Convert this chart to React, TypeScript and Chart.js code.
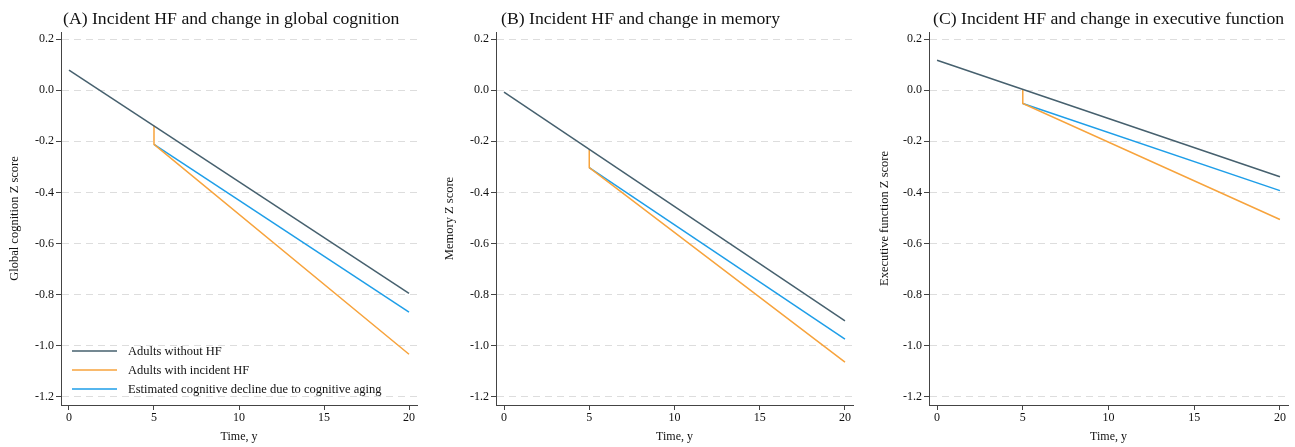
import React, { useEffect, useRef } from "react";
import { Chart, registerables } from "chart.js";

Chart.register(...registerables);

// ---------- Data ----------
const panelTitles = [
  "(A) Incident HF and change in global cognition",
  "(B) Incident HF and change in memory",
  "(C) Incident HF and change in executive function",
];
const yAxisTitles = ["Global cognition Z score", "Memory Z score", "Executive function Z score"];
const xAxisTitle = "Time, y";
const seriesLabels = [
  "Adults without HF",
  "Adults with incident HF",
  "Estimated cognitive decline due to cognitive aging",
];
const xTickValues = [0, 5, 10, 15, 20];
const yTickValues = [-1.2, -1.0, -0.8, -0.6, -0.4, -0.2, 0.0, 0.2];

const noHFTimes = [0, 20];
const incidentHFTimes = [5, 5, 20];
const agingTimes = [5, 20];

const globalNoHF = [0.078, -0.795];
const globalIncidentHF = [-0.139, -0.212, -1.033];
const globalAging = [-0.212, -0.868];

const memoryNoHF = [-0.008, -0.902];
const memoryIncidentHF = [-0.232, -0.303, -1.064];
const memoryAging = [-0.303, -0.974];

const execNoHF = [0.117, -0.339];
const execIncidentHF = [0.003, -0.052, -0.506];
const execAging = [-0.052, -0.393];

// ---------- Styles / layout ----------
const COLORS = ["#46606e", "#f7a33c", "#1e9ee8"];
const FONT = '"Liberation Serif", "Times New Roman", serif';
const Y_MIN = -1.2313;
const Y_MAX = 0.2274;
const X_MIN = -0.47;
const X_MAX = 20.47;
const HEIGHT = 447;

type PanelLayout = {
  left: number;
  width: number;
  chartLeft: number;
  chartRight: number;
  titleX: number;
  legend: boolean;
};

const layouts: PanelLayout[] = [
  { left: 0, width: 435, chartLeft: 61, chartRight: 417, titleX: 63, legend: true },
  { left: 435, width: 435, chartLeft: 61, chartRight: 418, titleX: 66, legend: false },
  { left: 870, width: 425, chartLeft: 59, chartRight: 418, titleX: 63, legend: false },
];

const panelSeries = [
  [globalNoHF, globalIncidentHF, globalAging],
  [memoryNoHF, memoryIncidentHF, memoryAging],
  [execNoHF, execIncidentHF, execAging],
];
const seriesTimes = [noHFTimes, incidentHFTimes, agingTimes];

const textPlugin = {
  id: "panelText",
  afterDraw(chart: any, _args: any, opts: any) {
    const ctx = chart.ctx;
    const ca = chart.chartArea;
    ctx.save();
    ctx.fillStyle = "#111";
    ctx.textBaseline = "middle";
    // Title
    ctx.font = `17.7px ${FONT}`;
    ctx.textAlign = "left";
    ctx.fillText(opts.title, opts.titleX, 19);
    // Y axis title
    ctx.font = `12.5px ${FONT}`;
    ctx.save();
    ctx.translate(15, (ca.top + ca.bottom) / 2);
    ctx.rotate(-Math.PI / 2);
    ctx.textAlign = "center";
    ctx.fillText(opts.yTitle, 0, 0);
    ctx.restore();
    // X axis title
    ctx.font = `12px ${FONT}`;
    ctx.textAlign = "center";
    ctx.fillText(xAxisTitle, (ca.left + ca.right) / 2, 437);
    // Legend
    if (opts.legend) {
      const rows = [351, 370, 389];
      ctx.font = `12.5px ${FONT}`;
      ctx.textAlign = "left";
      chart.data.datasets.forEach((ds: any, i: number) => {
        ctx.strokeStyle = ds.borderColor;
        ctx.lineWidth = 1.5;
        ctx.beginPath();
        ctx.moveTo(72, rows[i]);
        ctx.lineTo(117, rows[i]);
        ctx.stroke();
        ctx.fillStyle = "#111";
        ctx.fillText(ds.label, 128, rows[i] + 0.5);
      });
    }
    ctx.restore();
  },
};

function Panel({ idx }: { idx: number }) {
  const ref = useRef<HTMLCanvasElement>(null);
  const lay = layouts[idx];
  useEffect(() => {
    if (!ref.current) return;
    const datasets = panelSeries[idx].map((vals, s) => ({
      label: seriesLabels[s],
      data: seriesTimes[s].map((t, k) => ({ x: t, y: vals[k] })),
      borderColor: COLORS[s],
      backgroundColor: COLORS[s],
      borderWidth: 1.5,
      pointRadius: 0,
      tension: 0,
      fill: false,
    }));
    const chart = new Chart(ref.current, {
      type: "line",
      data: { datasets },
      plugins: [textPlugin],
      options: {
        responsive: false,
        animation: false,
        devicePixelRatio: 1,
        layout: {
          padding: { left: 0, right: lay.width - lay.chartRight, top: 32, bottom: 0 },
        },
        plugins: {
          legend: { display: false },
          title: { display: false },
          tooltip: { enabled: false },
          panelText: {
            title: panelTitles[idx],
            titleX: lay.titleX,
            yTitle: yAxisTitles[idx],
            legend: lay.legend,
          },
        } as any,
        scales: {
          x: {
            type: "linear",
            min: X_MIN,
            max: X_MAX,
            afterBuildTicks: (s: any) => {
              s.ticks = xTickValues.map((v) => ({ value: v }));
            },
            afterFit: (s: any) => {
              s.height = HEIGHT - 405;
            },
            grid: {
              drawOnChartArea: false,
              drawTicks: true,
              tickLength: 5,
              tickColor: "#444",
              tickWidth: 1,
            },
            border: { display: true, color: "#444", width: 1 },
            ticks: {
              padding: 1,
              color: "#111",
              font: { family: FONT, size: 12 },
              maxRotation: 0,
              callback: (v: any) => String(v),
            },
          },
          y: {
            type: "linear",
            min: Y_MIN,
            max: Y_MAX,
            afterBuildTicks: (s: any) => {
              s.ticks = yTickValues.map((v) => ({ value: v }));
            },
            afterFit: (s: any) => {
              s.width = lay.chartLeft;
            },
            grid: {
              drawOnChartArea: true,
              drawTicks: true,
              color: "#dddddd",
              lineWidth: 1,
              tickLength: 5,
              tickColor: "#444",
              tickWidth: 1,
              tickBorderDash: [],
            },
            border: { display: true, color: "#444", width: 1, dash: [7, 5] },
            ticks: {
              padding: 2,
              color: "#111",
              font: { family: FONT, size: 12 },
              callback: (v: any) => Number(v).toFixed(1),
            },
          },
        },
      } as any,
    });
    return () => chart.destroy();
  }, [idx]);
  return (
    <canvas
      ref={ref}
      width={lay.width}
      height={HEIGHT}
      style={{ position: "absolute", left: lay.left, top: 0, width: lay.width, height: HEIGHT }}
    />
  );
}

export default function App() {
  return (
    <div
      style={{
        position: "fixed",
        left: 0,
        top: 0,
        width: 1295,
        height: HEIGHT,
        background: "#ffffff",
        overflow: "hidden",
      }}
    >
      {[0, 1, 2].map((i) => (
        <Panel key={i} idx={i} />
      ))}
    </div>
  );
}
